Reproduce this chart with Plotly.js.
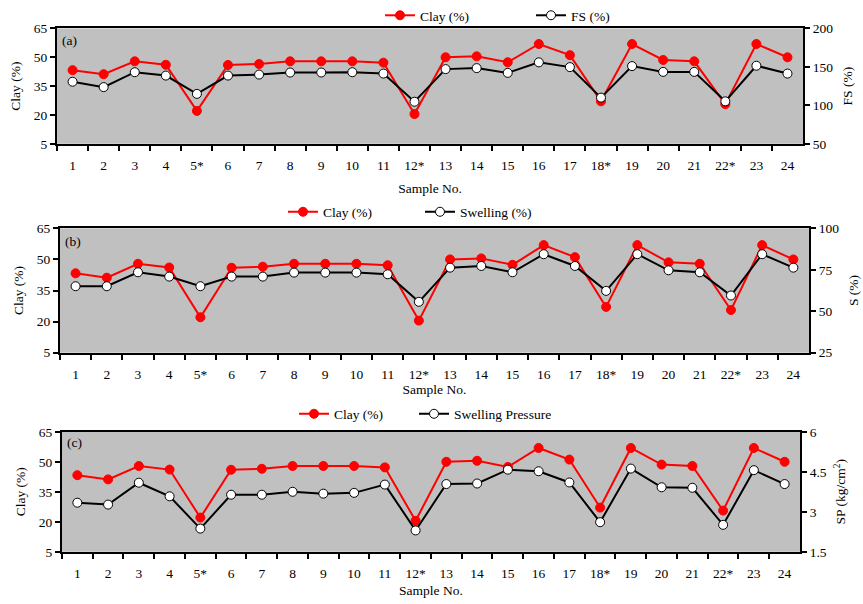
<!DOCTYPE html>
<html>
<head>
<meta charset="utf-8">
<script src="https://cdn.plot.ly/plotly-3.0.1.min.js"></script>
<style>html,body{margin:0;padding:0;background:#fff;}#chart{width:863px;height:604px;}</style>
</head>
<body>
<div id="chart"></div>
<script>
const samples = ["1","2","3","4","5*","6","7","8","9","10","11","12*","13","14","15","16","17","18*","19","20","21","22*","23","24"];
const clay = [43.3,41.2,47.9,46.1,22.1,46.0,46.5,47.9,47.9,47.9,47.2,20.5,50.0,50.5,47.4,56.9,51.1,27.1,56.9,48.6,47.9,25.6,56.9,50.0];
const freeSwell = [130.7,123.7,143.1,138.7,114.9,138.7,140.0,142.7,142.7,143.1,141.3,104.7,147.1,148.4,142.2,155.9,149.7,110.0,151.0,143.5,143.5,105.2,151.5,141.3];
const swelling = [65.1,65.1,73.5,70.9,65.1,70.9,70.9,73.3,73.3,73.3,72.3,55.7,76.3,77.3,73.5,84.4,77.3,62.3,84.4,74.7,73.5,59.5,84.4,76.3];
const swellPressure = [3.34,3.27,4.09,3.58,2.37,3.64,3.64,3.75,3.68,3.71,4.02,2.30,4.04,4.06,4.58,4.52,4.10,2.61,4.62,3.92,3.90,2.51,4.56,4.04];

const FONT = {family: 'Liberation Serif, Times New Roman, serif', size: 13.5, color: '#000'};

function clayTrace(xa, ya, lg) {
  return {x: samples, y: clay, xaxis: xa, yaxis: ya, legend: lg, name: 'Clay (%)', mode: 'lines+markers',
    line: {color: '#ff0000', width: 2}, marker: {color: '#ff0000', size: 9, line: {color: '#ff0000', width: 1}}};
}
function otherTrace(vals, name, xa, ya, lg) {
  return {x: samples, y: vals, xaxis: xa, yaxis: ya, legend: lg, name: name, mode: 'lines+markers',
    line: {color: '#000', width: 2}, marker: {color: '#fff', size: 9, line: {color: '#000', width: 1}}};
}

const data = [
  clayTrace('x', 'y', 'legend'),
  otherTrace(freeSwell, 'FS (%)', 'x', 'y2', 'legend2'),
  clayTrace('x2', 'y3', 'legend3'),
  otherTrace(swelling, 'Swelling (%)', 'x2', 'y4', 'legend4'),
  clayTrace('x3', 'y5', 'legend5'),
  otherTrace(swellPressure, 'Swelling Pressure', 'x3', 'y6', 'legend6')
];

function xAxis(dom, anchor, standoff) {
  return {domain: dom, anchor: anchor, type: 'category', range: [-0.5, 23.5], tickson: 'boundaries',
    ticks: 'outside', ticklen: 5, tickwidth: 2, tickcolor: '#000', showline: true, linewidth: 2, linecolor: '#000',
    mirror: true, showgrid: false, zeroline: false, tickfont: FONT, tickangle: 0, ticklabelstandoff: 8,
    title: {text: 'Sample No.', font: FONT, standoff: standoff}};
}
function yLeft(dom, anchor) {
  return {domain: dom, anchor: anchor, range: [5, 65], tickvals: [5,20,35,50,65], ticks: 'outside', ticklen: 5,
    tickwidth: 2, tickcolor: '#000', showline: true, linewidth: 2, linecolor: '#000', showgrid: false, zeroline: false,
    tickfont: FONT, title: {text: 'Clay (%)', font: FONT, standoff: 10}};
}
function yRight(dom, anchor, overlay, range, tv, title) {
  return {domain: dom, anchor: anchor, overlaying: overlay, side: 'right', range: range, tickvals: tv, ticks: 'outside',
    ticklen: 5, tickwidth: 2, tickcolor: '#000', showline: true, linewidth: 2, linecolor: '#000', showgrid: false,
    zeroline: false, tickfont: FONT, title: {text: title, font: FONT, standoff: 10}};
}

const dA = [0.7632, 0.9545], dB = [0.4167, 0.6230], dC = [0.0866, 0.2856];

function lg(xpx, ypx) {
  return {orientation: 'h', font: FONT, bgcolor: 'rgba(0,0,0,0)', borderwidth: 0,
    xanchor: 'left', yanchor: 'middle', itemwidth: 30, x: (xpx - 9) / 863, y: 1 - ypx / 604};
}

const layout = {
  width: 863, height: 604,
  margin: {l: 0, r: 0, t: 0, b: 0},
  paper_bgcolor: '#fff', plot_bgcolor: '#c0c0c0',
  font: FONT,
  showlegend: true,
  xaxis: xAxis([0.0661, 0.9305], 'y', 12),
  yaxis: yLeft(dA, 'x'),
  yaxis2: yRight(dA, 'x', 'y', [50, 200], [50,100,150,200], 'FS (%)'),
  xaxis2: xAxis([0.0695, 0.9374], 'y3', 0),
  yaxis3: yLeft(dB, 'x2'),
  yaxis4: yRight(dB, 'x2', 'y3', [25, 100], [25,50,75,100], 'S (%)'),
  xaxis3: xAxis([0.0718, 0.9270], 'y5', 6),
  yaxis5: yLeft(dC, 'x3'),
  yaxis6: yRight(dC, 'x3', 'y5', [1.5, 6], [1.5,3,4.5,6], 'SP (kg/cm<sup>2</sup>)'),
  legend: lg(389, 15),
  legend2: lg(540, 15),
  legend3: lg(292, 212),
  legend4: lg(429, 212),
  legend5: lg(303, 414),
  legend6: lg(423, 414),
  annotations: [
    {text: '(a)', xref: 'x domain', yref: 'y domain', x: 0, y: 1, xanchor: 'left', yanchor: 'top', xshift: 3, yshift: -3, showarrow: false, font: FONT},
    {text: '(b)', xref: 'x2 domain', yref: 'y3 domain', x: 0, y: 1, xanchor: 'left', yanchor: 'top', xshift: 3, yshift: -4, showarrow: false, font: FONT},
    {text: '(c)', xref: 'x3 domain', yref: 'y5 domain', x: 0, y: 1, xanchor: 'left', yanchor: 'top', xshift: 3, yshift: -1, showarrow: false, font: FONT}
  ]
};

Plotly.newPlot('chart', data, layout, {displayModeBar: false, staticPlot: true});
</script>
</body>
</html>
